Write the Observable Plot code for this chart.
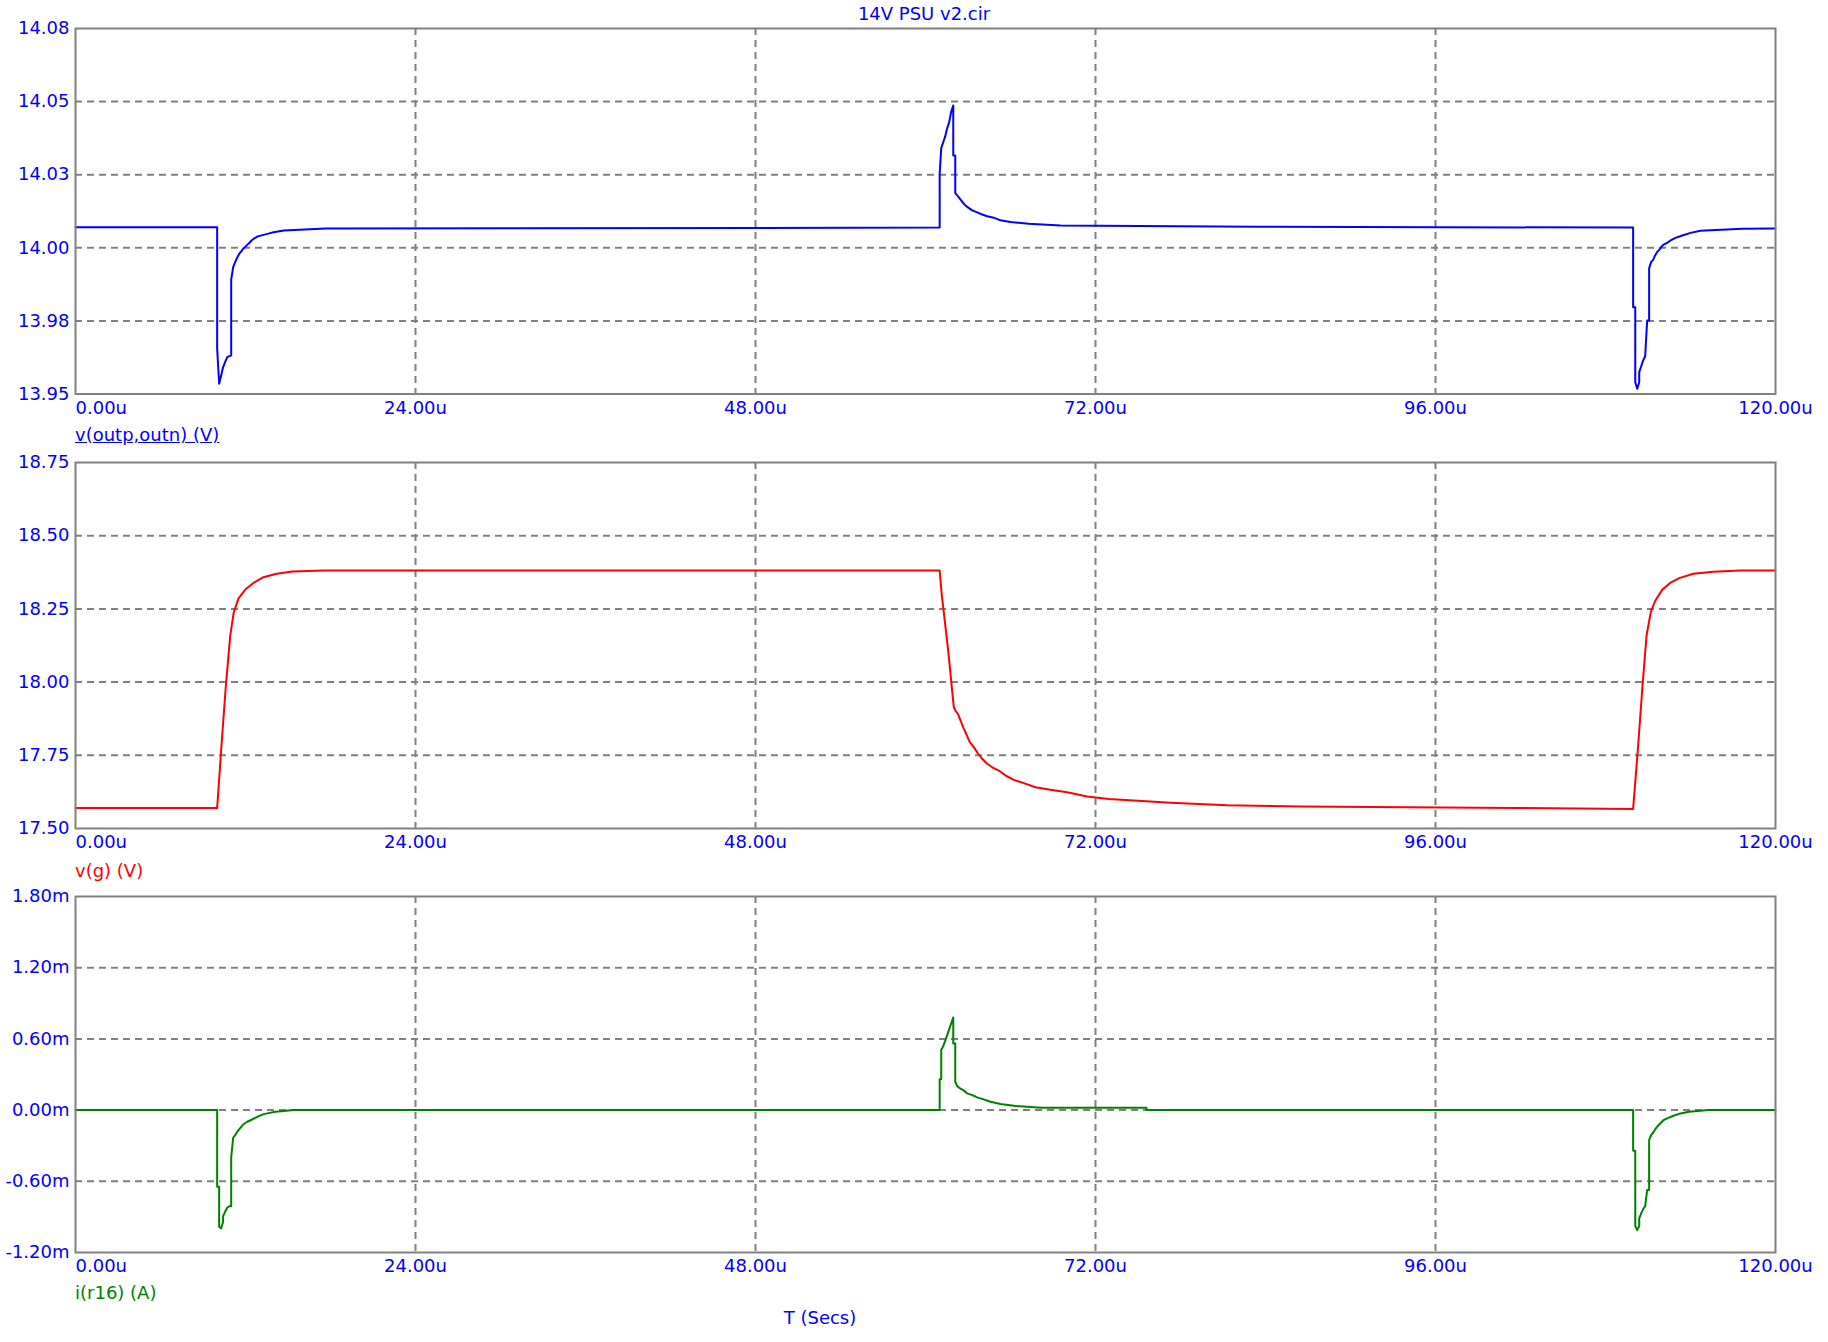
<!DOCTYPE html>
<html><head><meta charset="utf-8">
<script src="https://cdn.jsdelivr.net/npm/d3@7"></script>
<script src="https://cdn.jsdelivr.net/npm/@observablehq/plot@0.6"></script>
<style>
body{margin:0;background:#fff;}
#root{position:relative;width:1828px;height:1342px;background:#fff;font-family:"DejaVu Sans";font-size:18px;overflow:hidden;}
.lbl{position:absolute;white-space:nowrap;line-height:20px;}
#root svg{position:absolute;left:0;}
</style></head><body><div id="root"></div>
<script>
// ---- data ----
const title = "14V PSU v2.cir";
const xAxisTitle = "T (Secs)";
const xTicks = [0, 24, 48, 72, 96, 120];
const xLabels = ["0.00u", "24.00u", "48.00u", "72.00u", "96.00u", "120.00u"];

// panel 1: v(outp,outn) (V)
const name1 = "v(outp,outn) (V)";
const y1Ticks = [13.95, 13.975, 14.0, 14.025, 14.05, 14.075];
const y1Labels = ["13.95", "13.98", "14.00", "14.03", "14.05", "14.08"];
const t1 = [0,10.0,10.0,10.14,10.28,10.42,10.56,10.71,10.99,10.99,11.13,11.27,11.41,11.55,11.70,11.84,12.0,12.12,12.28,12.42,12.59,12.87,13.41,13.88,14.70,17.65,
  61.0,61.0,61.11,61.25,61.39,61.53,61.67,61.81,61.96,61.96,62.1,62.1,62.24,62.38,62.52,62.66,62.82,62.94,63.3,63.65,64.0,64.36,64.82,65.29,66.0,67.29,69.53,83.3,
  109.95,109.95,110.1,110.1,110.24,110.38,110.38,110.52,110.66,110.8,110.94,111.08,111.08,111.22,111.36,111.5,111.64,111.79,111.93,112.07,112.35,112.59,112.94,113.42,114.0,114.7,117.65,120];
const v1 = [14.007,14.007,13.9655,13.9535,13.9563,13.9592,13.9609,13.9626,13.9632,13.9891,13.9934,13.9951,13.9966,13.9979,13.9988,13.9997,14.0004,14.001,14.0017,14.0025,14.0031,14.0039,14.0046,14.0052,14.0059,14.0066,
  14.0069,14.0253,14.0341,14.0361,14.0381,14.0409,14.043,14.0464,14.0487,14.0316,14.0316,14.0187,14.0179,14.0171,14.0162,14.0153,14.0145,14.014,14.0128,14.0121,14.0114,14.0108,14.0103,14.0094,14.0088,14.0082,14.0076,14.0072,
  14.0069,13.9797,13.9797,13.954,13.9518,13.954,13.9575,13.9595,13.9615,13.9629,13.9751,13.9751,13.993,13.9951,13.9959,13.9974,13.9985,13.9993,14.0002,14.001,14.0017,14.0025,14.0034,14.0042,14.0051,14.0058,14.0065,14.0066];

// panel 2: v(g) (V)
const name2 = "v(g) (V)";
const y2Ticks = [17.5, 17.75, 18.0, 18.25, 18.5, 18.75];
const y2Labels = ["17.50", "17.75", "18.00", "18.25", "18.50", "18.75"];
const t2 = [0,10.0,10.3,10.6,10.92,11.17,11.5,12.0,12.6,13.2,14.2,15.3,17.5,
  61.0,61.15,61.29,61.43,61.58,61.72,61.86,62.0,62.14,62.28,62.42,62.56,62.7,62.85,62.99,63.13,63.41,63.69,64.0,64.31,64.71,65.18,65.65,66.23,66.94,67.76,68.82,70.0,71.41,72.94,74.7,77.3,81.3,86.5,101.6,
  109.95,110.3,110.6,110.9,111.2,111.5,112.0,112.6,113.2,114.2,115.6,117.5,120];
const v2 = [17.57,17.57,17.78,17.98,18.158,18.238,18.285,18.317,18.34,18.357,18.37,18.378,18.381,
  18.381,18.296,18.239,18.179,18.117,18.051,17.98,17.914,17.9,17.892,17.875,17.858,17.841,17.826,17.81,17.795,17.778,17.757,17.738,17.723,17.709,17.698,17.681,17.666,17.655,17.641,17.632,17.624,17.609,17.601,17.596,17.588,17.579,17.575,17.57,
  17.567,17.78,17.98,18.16,18.24,18.277,18.315,18.34,18.355,18.37,18.377,18.381,18.381];

// panel 3: i(r16) (A), in mA
const name3 = "i(r16) (A)";
const y3Ticks = [-1.2, -0.6, 0, 0.6, 1.2, 1.8];
const y3Labels = ["-1.20m", "-0.60m", "0.00m", "0.60m", "1.20m", "1.80m"];
const t3 = [0,10.0,10.0,10.14,10.14,10.28,10.42,10.42,10.56,10.71,10.85,10.99,10.99,11.13,11.27,11.41,11.55,11.7,11.84,12.12,12.47,12.94,13.29,13.96,15.41,
  61.0,61.0,61.11,61.11,61.25,61.39,61.53,61.67,61.81,61.96,61.96,62.1,62.1,62.24,62.38,62.66,62.94,63.3,63.65,64.1,64.6,65.3,66.35,68.2,75.6,75.6,
  109.95,109.95,110.1,110.1,110.24,110.38,110.38,110.52,110.66,110.8,110.94,111.08,111.08,111.22,111.36,111.5,111.64,111.79,111.93,112.1,112.35,112.8,113.3,113.9,115.3,120];
const i3 = [0,0,-0.646,-0.646,-0.983,-0.997,-0.941,-0.893,-0.857,-0.823,-0.81,-0.81,-0.399,-0.233,-0.211,-0.183,-0.163,-0.141,-0.121,-0.098,-0.079,-0.051,-0.034,-0.017,0,
  0,0.261,0.261,0.506,0.539,0.584,0.632,0.68,0.73,0.781,0.562,0.562,0.239,0.202,0.188,0.169,0.141,0.126,0.107,0.09,0.07,0.051,0.034,0.019,0.019,0,
  0,-0.343,-0.343,-0.978,-1.011,-0.978,-0.913,-0.871,-0.834,-0.809,-0.674,-0.674,-0.253,-0.211,-0.191,-0.163,-0.141,-0.121,-0.104,-0.084,-0.07,-0.048,-0.028,-0.014,0,0];

// ---- rendering ----
const root = document.getElementById("root");
const BLUE = "#0000ff", GRID = "#808080";

function panel(ts, vs, yTicks, yLabels, color, top, h) {
  const mt = 10, mb = 30;
  const data = ts.map((t, k) => ({t, v: vs[k]}));
  const svg = Plot.plot({
    width: 1828, height: h + mt + mb,
    marginLeft: 75, marginRight: 53, marginTop: mt, marginBottom: mb,
    x: {domain: [xTicks[0], xTicks[xTicks.length - 1]]},
    y: {domain: [yTicks[0], yTicks[yTicks.length - 1]]},
    style: {fontFamily: "DejaVu Sans", fontSize: "18px", background: "transparent", overflow: "visible"},
    marks: [
      Plot.gridX(xTicks.slice(1, -1), {stroke: GRID, strokeOpacity: 1, strokeWidth: 2, strokeDasharray: "7,5"}),
      Plot.gridY(yTicks.slice(1, -1), {stroke: GRID, strokeOpacity: 1, strokeWidth: 2, strokeDasharray: "7,5"}),
      Plot.axisY(yTicks, {tickSize: 0, tickPadding: 6, color: BLUE, fill: BLUE, label: null,
        tickFormat: d => yLabels[yTicks.indexOf(d)]}),
      Plot.axisX(xTicks.slice(1), {tickSize: 0, tickPadding: 7, color: BLUE, fill: BLUE, label: null,
        tickFormat: d => xLabels[xTicks.indexOf(d)]}),
      Plot.axisX(xTicks.slice(0, 1), {tickSize: 0, tickPadding: 7, color: BLUE, fill: BLUE, label: null, textAnchor: "start",
        tickFormat: d => xLabels[xTicks.indexOf(d)]}),
      Plot.line(data, {x: "t", y: "v", stroke: color, strokeWidth: 2}),
      Plot.frame({stroke: GRID, strokeWidth: 2})
    ]
  });
  svg.style.top = (top - mt) + "px";
  root.appendChild(svg);
}

panel(t1, v1, y1Ticks, y1Labels, "#0000ff", 28, 365.5);
panel(t2, v2, y2Ticks, y2Labels, "#ff0000", 462, 366);
panel(t3, i3, y3Ticks, y3Labels, "#008000", 896, 356);

function label(text, left, top, color, extra) {
  const d = document.createElement("div");
  d.className = "lbl";
  d.textContent = text;
  d.style.left = left + "px";
  d.style.top = top + "px";
  d.style.color = color;
  if (extra) Object.assign(d.style, extra);
  root.appendChild(d);
}
label(title, 0, 4, BLUE, {width: "1848px", textAlign: "center"});
label(name1, 75, 425, BLUE, {textDecoration: "underline"});
label(name2, 75, 861, "#ff0000");
label(name3, 75, 1283, "#008000");
label(xAxisTitle, 720, 1308, BLUE, {width: "200px", textAlign: "center"});
</script></body></html>
